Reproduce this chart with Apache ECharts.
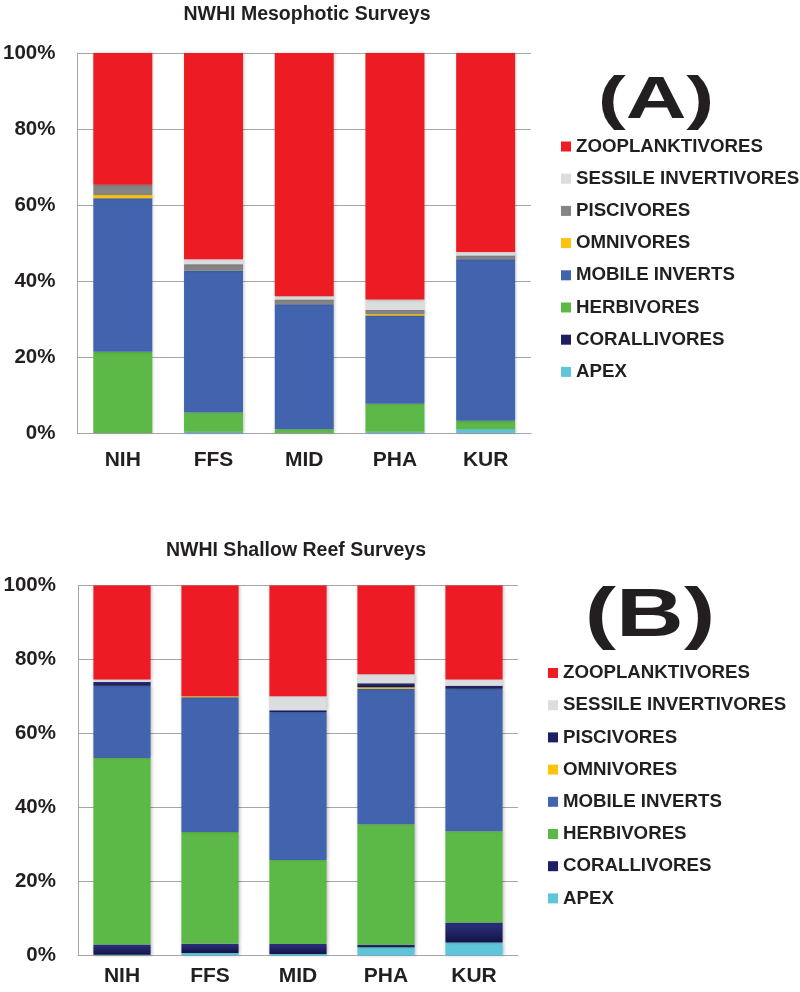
<!DOCTYPE html>
<html>
<head>
<meta charset="utf-8">
<script src="https://cdn.jsdelivr.net/npm/echarts@6/dist/echarts.min.js"></script>
<style>html,body{margin:0;padding:0;background:#fff;}#c{width:800px;height:992px;}</style>
</head>
<body>
<div id="c"></div>
<script>
const categories = ['NIH', 'FFS', 'MID', 'PHA', 'KUR'];
const groups = ['APEX', 'CORALLIVORES', 'HERBIVORES', 'MOBILE INVERTS', 'OMNIVORES', 'PISCIVORES', 'SESSILE INVERTIVORES', 'ZOOPLANKTIVORES'];
const yTicks = [0, 20, 40, 60, 80, 100];

// Panel A: NWHI Mesophotic Surveys (percent)
const mesoApex    = [0, 0.3, 0, 0.3, 1.0];
const mesoCoral   = [0, 0, 0, 0, 0];
const mesoHerb    = [21.4, 5.1, 1.0, 7.4, 2.2];
const mesoMobile  = [40.4, 37.3, 32.9, 23.2, 42.5];
const mesoOmni    = [0.8, 0, 0, 0.4, 0];
const mesoPisc    = [2.7, 1.7, 1.2, 1.1, 1.0];
const mesoSessile = [0, 1.3, 0.9, 2.7, 0.9];
const mesoZoop    = [34.7, 54.3, 64.0, 64.9, 52.4];

// Panel B: NWHI Shallow Reef Surveys (percent)
const shalApex    = [0.2, 0.7, 0.4, 2.2, 3.5];
const shalCoral   = [2.8, 2.5, 2.7, 0.7, 5.4];
const shalHerb    = [50.4, 30.2, 22.7, 32.6, 24.7];
const shalMobile  = [19.5, 36.4, 40.0, 36.6, 38.5];
const shalOmni    = [0, 0.3, 0, 0.4, 0];
const shalPisc    = [1.0, 0, 0.5, 1.1, 0.8];
const shalSessile = [0.7, 0, 3.8, 2.4, 1.7];
const shalZoop    = [25.4, 29.9, 29.9, 24.0, 25.4];

const meso = [mesoApex, mesoCoral, mesoHerb, mesoMobile, mesoOmni, mesoPisc, mesoSessile, mesoZoop];
const shal = [shalApex, shalCoral, shalHerb, shalMobile, shalOmni, shalPisc, shalSessile, shalZoop];

const navyGrad = {type: 'linear', x: 0, y: 0, x2: 0, y2: 1, colorStops: [{offset: 0, color: '#2E3282'}, {offset: 1, color: '#111446'}]};
const colorsA = ['#5FC6DA', navyGrad, '#5DB947', '#4264AE', '#FFC20E', '#858585', '#DCDDDE', '#ED1C24'];
const colorsB = ['#5FC6DA', navyGrad, '#5DB947', '#4264AE', '#FFC20E', navyGrad, '#DCDDDE', '#ED1C24'];
const legendA = ['#ED1C24', '#DCDDDE', '#858585', '#FFC20E', '#4264AE', '#5DB947', '#1C1F63', '#5FC6DA'];
const legendB = ['#ED1C24', '#DCDDDE', '#1C1F63', '#FFC20E', '#4264AE', '#5DB947', '#1C1F63', '#5FC6DA'];

const FONT = '"Liberation Sans", Arial, sans-serif';
const TXT = '#231F20';
const GRID_C = '#A6A6A6';

function xAx(gi, margin) {
  return {
    type: 'category', gridIndex: gi, data: categories,
    axisLine: {show: true, lineStyle: {color: GRID_C, width: 1}},
    axisTick: {show: false},
    axisLabel: {margin: margin, fontFamily: FONT, fontWeight: 'bold', fontSize: 21, color: TXT}
  };
}
function yAx(gi) {
  return {
    type: 'value', gridIndex: gi, min: yTicks[0], max: yTicks[yTicks.length - 1], interval: 20,
    axisLine: {show: true, lineStyle: {color: GRID_C, width: 1}},
    axisTick: {show: false},
    splitLine: {show: true, lineStyle: {color: GRID_C, width: 1}},
    axisLabel: {margin: 22, formatter: '{value}%', fontFamily: FONT, fontWeight: 'bold', fontSize: 20.5, color: TXT}
  };
}

const series = [];
groups.forEach((g, i) => {
  series.push({
    name: g, type: 'bar', stack: 'a', xAxisIndex: 0, yAxisIndex: 0, barWidth: '65%',
    data: meso[i], itemStyle: {color: colorsA[i], shadowBlur: 3, shadowColor: 'rgba(0,0,0,0.25)', shadowOffsetX: 1, shadowOffsetY: 0},
    emphasis: {disabled: true}
  });
});
groups.forEach((g, i) => {
  series.push({
    name: g, type: 'bar', stack: 'b', xAxisIndex: 1, yAxisIndex: 1, barWidth: '65%',
    data: shal[i], itemStyle: {color: colorsB[i], shadowBlur: 3, shadowColor: 'rgba(0,0,0,0.25)', shadowOffsetX: 1, shadowOffsetY: 0},
    emphasis: {disabled: true}
  });
});

const legendOrder = groups.slice().reverse();
function leg(left, top, cols) {
  return {
    orient: 'vertical', left: left, top: top, padding: 0, itemWidth: 10, itemHeight: 10, itemGap: 12.2,
    selectedMode: false, icon: 'rect',
    textStyle: {fontFamily: FONT, fontWeight: 'bold', fontSize: 18.7, color: TXT, lineHeight: 20},
    data: legendOrder.map((n, k) => ({name: n, itemStyle: {color: cols[k]}}))
  };
}

const chart = echarts.init(document.getElementById('c'), null, {renderer: 'canvas'});
chart.setOption({
  animation: false,
  backgroundColor: '#fff',
  grid: [
    {left: 77, top: 53, width: 454, height: 380},
    {left: 78, top: 585.5, width: 440, height: 370}
  ],
  xAxis: [xAx(0, 17), xAx(1, 10)],
  yAxis: [yAx(0), yAx(1)],
  legend: [leg(561, 136.5, legendA), leg(548, 663, legendB)],
  graphic: [
    {type: 'text', x: 307, y: 15, style: {text: 'NWHI Mesophotic Surveys', font: 'bold 19.5px ' + FONT, fill: TXT, textAlign: 'center', textVerticalAlign: 'middle'}},
    {type: 'text', x: 296, y: 551, style: {text: 'NWHI Shallow Reef Surveys', font: 'bold 19.5px ' + FONT, fill: TXT, textAlign: 'center', textVerticalAlign: 'middle'}},
    {type: 'text', x: 656, y: 101, scaleX: 1.4, originX: 0, style: {text: '(A)', font: 'bold 60px ' + FONT, fill: TXT, textAlign: 'center', textVerticalAlign: 'middle'}},
    {type: 'text', x: 650, y: 617, scaleX: 1.38, style: {text: '(B)', font: 'bold 68px ' + FONT, fill: TXT, textAlign: 'center', textVerticalAlign: 'middle'}}
  ],
  series: series
});
</script>
</body>
</html>
